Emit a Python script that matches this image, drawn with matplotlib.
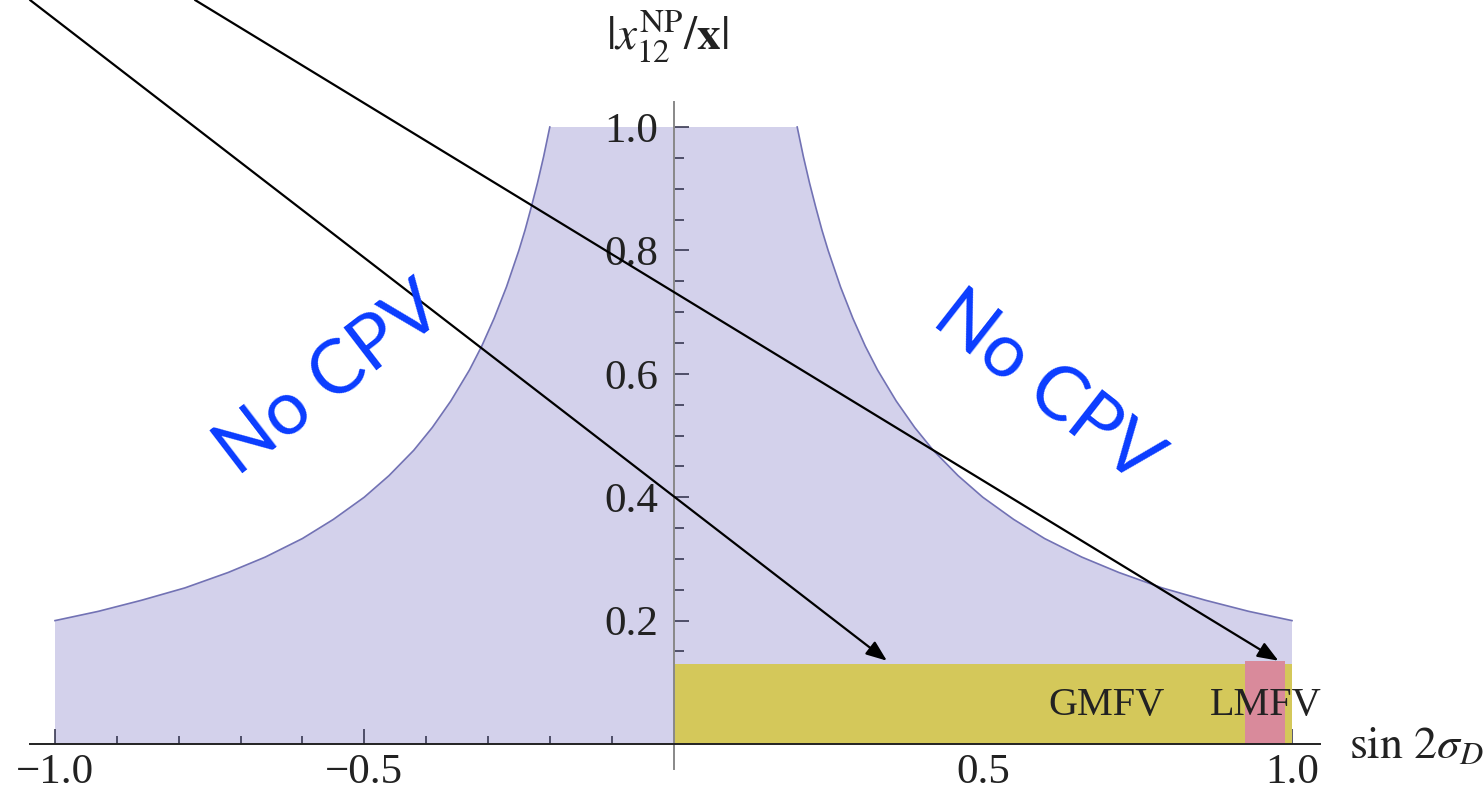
"""Allowed region in |x12^NP/x| vs sin 2sigma_D, Mathematica-style axes"""
import matplotlib
matplotlib.use('Agg')
import matplotlib.pyplot as plt
import numpy as np

plt.rcParams['font.family'] = ['Liberation Serif', 'DejaVu Serif']
plt.rcParams['mathtext.fontset'] = 'stix'

# boundary of the shaded region (right half; mirrored to the left)
sin2sigma = [0.20, 0.21, 0.22, 0.23, 0.24, 0.25, 0.27, 0.29, 0.31, 0.33, 0.36, 0.39, 0.42,
             0.46, 0.50, 0.55, 0.60, 0.66, 0.72, 0.79, 0.86, 0.93, 1.00]
x12_ratio = [1.00, 0.952, 0.909, 0.870, 0.833, 0.800, 0.741, 0.690, 0.645, 0.606, 0.556, 0.513, 0.476,
             0.435, 0.400, 0.364, 0.333, 0.303, 0.278, 0.253, 0.233, 0.215, 0.200]

# flavour scenarios: (x from, x to, height)
gmfv = (0.0, 1.0, 0.130)
lmfv = (0.924, 0.988, 0.134)
gmfv_label = (0.70, 0.063)
lmfv_label = (0.957, 0.063)

# arrow tips (data) and arrow tails (figure fraction)
arrow_tips = [(0.345, 0.135), (0.978, 0.135)]
arrow_tails = [(30 / 1484, 1.0), (195 / 1484, 1.0)]

x_major = [-1.0, -0.5, 0.5, 1.0]
x_minor = [-0.9, -0.8, -0.7, -0.6, -0.4, -0.3, -0.2, -0.1, 0.1, 0.2, 0.3, 0.4, 0.6, 0.7, 0.8, 0.9]
y_major = [0.2, 0.4, 0.6, 0.8, 1.0]
y_minor = [0.05, 0.1, 0.15, 0.25, 0.3, 0.35, 0.45, 0.5, 0.55, 0.65, 0.7, 0.75, 0.85, 0.9, 0.95]

W, H = 1484, 799
fig = plt.figure(figsize=(W / 100, H / 100), dpi=100)

# place axes so that data (0,0) sits at pixel (673.5, 744), 618.5 px per unit in x, 617 in y
xlim = (-1.08, 1.08)
ylim = (-0.05, 1.05)
left_px = 673.5 + xlim[0] * 618.5
right_px = 673.5 + xlim[1] * 618.5
bottom_px = 744 + (-ylim[0]) * 617  # image coords
top_px = 744 - ylim[1] * 617
ax = fig.add_axes([left_px / W, 1 - bottom_px / H, (right_px - left_px) / W, (bottom_px - top_px) / H])
ax.set_xlim(*xlim)
ax.set_ylim(*ylim)
ax.patch.set_visible(False)

# shaded region
xs = np.concatenate([-np.array(sin2sigma[::-1]), np.array(sin2sigma)])
ys = np.concatenate([np.array(x12_ratio[::-1]), np.array(x12_ratio)])
poly_x = np.concatenate([[-1.0], xs, [1.0]])
poly_y = np.concatenate([[0.0], ys, [0.0]])
ax.fill(poly_x, poly_y, color='#d3d1eb', lw=0, zorder=1)
edge_kw = dict(color='#7272b4', lw=1.2, zorder=2)
ax.plot(-np.array(sin2sigma), x12_ratio, **edge_kw)
ax.plot(sin2sigma, x12_ratio, **edge_kw)

# scenario boxes
ax.fill_between([gmfv[0], gmfv[1]], 0, gmfv[2], color='#d4c85a', lw=0, zorder=3)
ax.fill_between([lmfv[0], lmfv[1]], 0, lmfv[2], color='#d98a9b', lw=0, zorder=4)
ax.text(*gmfv_label, 'GMFV', fontsize=29, ha='center', va='center', color='#222222', zorder=6)
ax.text(*lmfv_label, 'LMFV', fontsize=29, ha='center', va='center', color='#222222', zorder=6)

# axes through the origin
for side in ['top', 'right']:
    ax.spines[side].set_visible(False)
ax.spines['bottom'].set_position(('data', 0))
ax.spines['left'].set_position(('data', 0))
ax.spines['bottom'].set_bounds(-1.04, 1.045)
ax.spines['left'].set_bounds(-0.04, 1.04)
ax.spines['bottom'].set_color('#222222')
ax.spines['left'].set_color('#888888')
ax.spines['bottom'].set_linewidth(1.4)
ax.spines['left'].set_linewidth(1.4)
ax.spines['bottom'].set_zorder(7)
ax.spines['left'].set_zorder(7)

ax.set_xticks(x_major)
ax.set_xticks(x_minor, minor=True)
ax.set_yticks(y_major)
ax.set_yticks(y_minor, minor=True)
ax.set_xticklabels(['\u22121.0', '\u22120.5', '0.5', '1.0'])
ax.set_yticklabels(['0.2', '0.4', '0.6', '0.8', '1.0'])
ax.tick_params(which='both', direction='in', colors='#2a2a44', width=1.1, labelsize=31,
               labelcolor='#222222', zorder=7)
ax.tick_params(axis='x', which='major', length=11, pad=7)
ax.tick_params(axis='x', which='minor', length=6)
ax.tick_params(axis='y', which='major', length=11, pad=11)
ax.tick_params(axis='y', which='minor', length=7)

# axis labels
ax.text(1.092, -0.005, r'$\sin\,2\sigma_D$', fontsize=33, ha='left', va='center', color='#222222')
ax.text(-0.01, 1.1, r'$|x_{12}^{\rm NP}/\mathbf{x}|$', fontsize=34, ha='center', va='bottom',
        color='#222222')

# "No CPV" labels
blue = '#0a3cff'
fig.text(330 / W, 1 - 380 / H, 'No CPV', fontsize=54, family=['Lato', 'DejaVu Sans'], color=blue,
         rotation=37.5, ha='center', va='center', rotation_mode='anchor')
fig.text(1047 / W, 1 - 388 / H, 'No CPV', fontsize=54, family=['Lato', 'DejaVu Sans'], color=blue,
         rotation=-38.0, ha='center', va='center', rotation_mode='anchor')

# arrows from outside the plot
for tip, tail in zip(arrow_tips, arrow_tails):
    ax.annotate('', xy=tip, xycoords='data', xytext=tail, textcoords='figure fraction',
                annotation_clip=False, zorder=8,
                arrowprops=dict(arrowstyle='-|>,head_length=0.9,head_width=0.35', color='black',
                                lw=1.6, shrinkA=0, shrinkB=0, mutation_scale=14))

fig.savefig('out.png', dpi=100)
